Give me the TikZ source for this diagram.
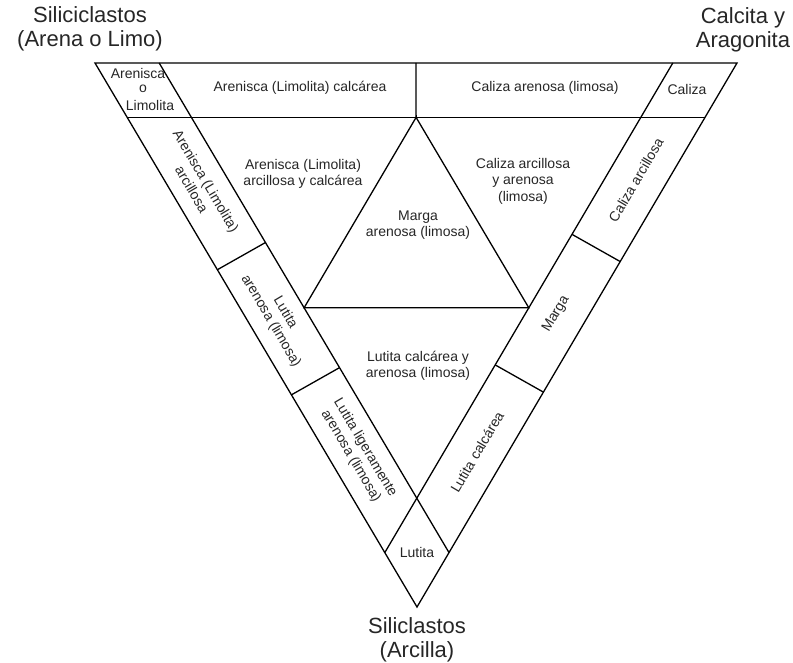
\documentclass[tikz,border=0pt]{standalone}
\usepackage{fontspec}
\setmainfont{Liberation Sans}
\usetikzlibrary{calc}

% ternary point: \tpt{name}{siliciclastos}{calcita}{arcilla}
\newcommand{\tpt}[4]{\coordinate (#1) at (barycentric cs:S=#2,K=#3,L=#4);}

\begin{document}
\begin{tikzpicture}[x=1pt,y=-1pt,line width=1.3pt,
    corner/.style={font=\fontsize{22}{23.5}\selectfont,align=center,inner sep=0pt,text=black!85},
    field/.style={font=\fontsize{14}{16.5}\selectfont,align=center,inner sep=0pt,text=black!85},
    sidel/.style={field,rotate=-59.4},
    sider/.style={field,rotate=59.5}]
  \useasboundingbox (0,0) rectangle (793,663);
  % vertices
  \coordinate (S) at (95,63);
  \coordinate (K) at (737,63);
  \coordinate (L) at (417,607);
  % 10% lines
  \tpt{ltop}{0.9}{0.1}{0}
  \tpt{lbot}{0}{0.1}{0.9}
  \tpt{rtop}{0.1}{0.9}{0}
  \tpt{rbot}{0.1}{0}{0.9}
  \tpt{hleft}{0.9}{0}{0.1}
  \tpt{hright}{0}{0.9}{0.1}
  % inner triangle
  \tpt{mtop}{0.5}{0.5}{0}
  \tpt{apex}{0.45}{0.45}{0.1}
  \tpt{ileft}{0.45}{0.1}{0.45}
  \tpt{iright}{0.1}{0.45}{0.45}
  % band dividers
  \tpt{la1}{0.62}{0}{0.38}   \tpt{lb1}{0.57}{0.1}{0.33}
  \tpt{la2}{0.39}{0}{0.61}   \tpt{lb2}{0.34}{0.1}{0.56}
  \tpt{ra1}{0}{0.635}{0.365} \tpt{rb1}{0.1}{0.585}{0.315}
  \tpt{ra2}{0}{0.395}{0.605} \tpt{rb2}{0.1}{0.345}{0.555}

  \draw (S) -- (K) -- (L) -- cycle;
  \draw (hleft) -- (hright);
  \draw (ltop) -- (lbot);
  \draw (rtop) -- (rbot);
  \draw (mtop) -- (apex);
  \draw (apex) -- (ileft) -- (iright) -- cycle;
  \draw (la1) -- (lb1);
  \draw (la2) -- (lb2);
  \draw (ra1) -- (rb1);
  \draw (ra2) -- (rb2);

  % corner labels
  \node[corner] (arena) at (90,29) {Siliciclastos\\(Arena o Limo)};
  \node[corner] (calcita) at (743,30) {Calcita y\\Aragonita};
  \node[corner] (arcilla) at (417,640) {Siliclastos\\(Arcilla)};

  % fields
  \node[field] (arlima) at (138,73) {Arenisca};
  \node[field] (arlimb) at (143,89) {o};
  \node[field] (arlimc) at (150,105) {Limolita};
  \node[field] (arcal) at (300,88) {Arenisca (Limolita) calcárea};
  \node[field] (calar) at (545,88) {Caliza arenosa (limosa)};
  \node[field] (cal) at (687,89) {Caliza};
  \node[field] (ararc) at (303,174) {Arenisca (Limolita)\\arcillosa y calcárea};
  \node[field] (calarc) at (523,181) {Caliza arcillosa\\y arenosa\\(limosa)};
  \node[field] (marar) at (418,225) {Marga\\arenosa (limosa)};
  \node[field] (lutcal) at (418,366) {Lutita calcárea y\\arenosa (limosa)};
  \node[field] (lut) at (417,552) {Lutita};
  \node[sidel] (ararcs) at (199,185) {Arenisca (Limolita)\\arcillosa};
  \node[sidel] (lutar) at (278,317) {Lutita\\arenosa (limosa)};
  \node[sidel] (lutlig) at (358,452) {Lutita ligeramente\\arenosa (limosa)};
  \node[sider] (calarcs) at (636,180) {Caliza arcillosa};
  \node[sider] (marga) at (556,314) {Marga};
  \node[sider] (lutcals) at (477,452) {Lutita calcárea};
\end{tikzpicture}
\end{document}
